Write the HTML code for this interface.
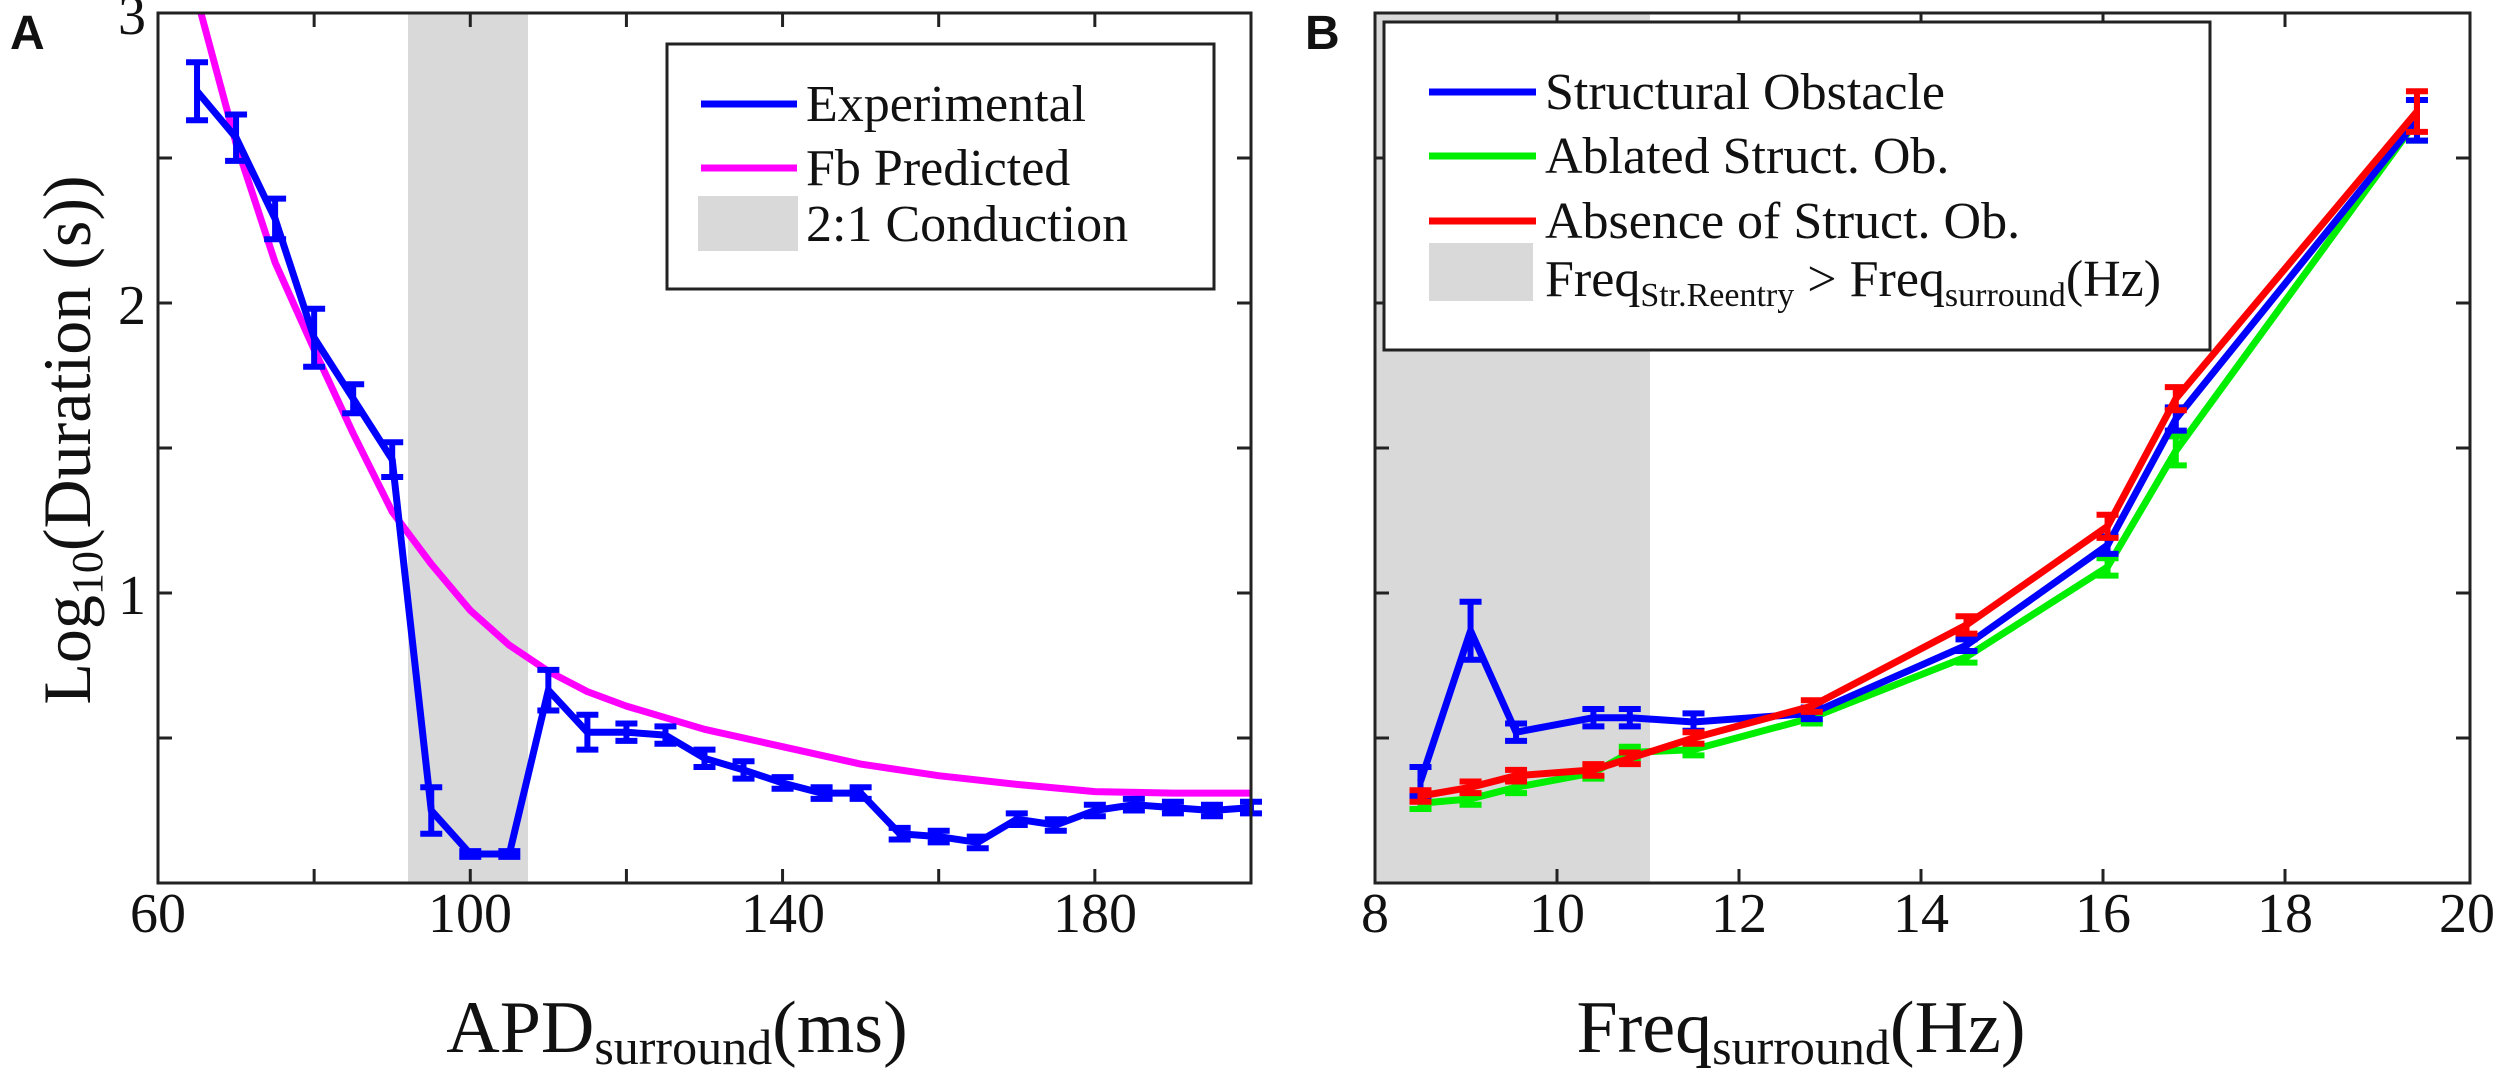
<!DOCTYPE html>
<html><head><meta charset="utf-8"><style>
html,body{margin:0;padding:0;background:#fff;}
svg{display:block;font-family:"Liberation Serif","Times New Roman","DejaVu Serif",serif;}
svg text{font-family:"Liberation Serif","Times New Roman","DejaVu Serif",serif;fill:#111;}
svg text.lab{font-family:"Liberation Sans","DejaVu Sans",sans-serif;font-weight:bold;font-size:48px;}
.tk{font-size:56px;}
.lg{font-size:52px;}
.ax{font-size:74px;}
.ay{font-size:68px;}
</style></head><body>
<svg id="s" width="2500" height="1077" viewBox="0 0 2500 1077" xmlns="http://www.w3.org/2000/svg" font-family="Liberation Serif, serif">
<rect width="2500" height="1077" fill="#fff"/>
<rect x="408" y="13" width="120" height="870" fill="#d9d9d9"/>
<rect x="1375" y="13" width="275" height="870" fill="#d9d9d9"/>
<g id="series"></g>
<g id="axes" stroke="#222" stroke-width="3" fill="none"></g>
<rect x="667" y="44" width="547" height="245" fill="#fff" stroke="#222" stroke-width="3"/>
<line x1="701" y1="104" x2="797" y2="104" stroke="#0000ff" stroke-width="7"/>
<line x1="701" y1="168" x2="797" y2="168" stroke="#ff00ff" stroke-width="7"/>
<rect x="698" y="196" width="100" height="55" fill="#d9d9d9"/>
<text class="lg" x="806" y="121">Experimental</text>
<text class="lg" x="806" y="185">Fb Predicted</text>
<text class="lg" x="806" y="241">2:1 Conduction</text>
<rect x="1384" y="22" width="826" height="328" fill="#fff" stroke="#222" stroke-width="3"/>
<line x1="1429" y1="92" x2="1536" y2="92" stroke="#0000ff" stroke-width="7"/>
<line x1="1429" y1="156" x2="1536" y2="156" stroke="#00ee00" stroke-width="7"/>
<line x1="1429" y1="221" x2="1536" y2="221" stroke="#ff0000" stroke-width="7"/>
<rect x="1429" y="243" width="104" height="58" fill="#d9d9d9"/>
<text class="lg" x="1545" y="109">Structural Obstacle</text>
<text class="lg" x="1545" y="173">Ablated Struct. Ob.</text>
<text class="lg" x="1545" y="238">Absence of Struct. Ob.</text>
<text class="lg" x="1545" y="296">Freq<tspan font-size="34" dy="10">Str.Reentry</tspan><tspan dy="-10"> &gt; Freq</tspan><tspan font-size="34" dy="10">surround</tspan><tspan dy="-10">(Hz)</tspan></text>
<text class="lab" x="10" y="49">A</text>
<text class="lab" x="1305" y="49">B</text>
<text class="tk" x="146" y="34" text-anchor="end">3</text>
<text class="tk" x="146" y="324" text-anchor="end">2</text>
<text class="tk" x="146" y="614" text-anchor="end">1</text>
<text class="tk" x="158" y="932" text-anchor="middle">60</text>
<text class="tk" x="470" y="932" text-anchor="middle">100</text>
<text class="tk" x="783" y="932" text-anchor="middle">140</text>
<text class="tk" x="1095" y="932" text-anchor="middle">180</text>
<text class="tk" x="1375" y="932" text-anchor="middle">8</text>
<text class="tk" x="1557" y="932" text-anchor="middle">10</text>
<text class="tk" x="1739" y="932" text-anchor="middle">12</text>
<text class="tk" x="1921" y="932" text-anchor="middle">14</text>
<text class="tk" x="2103" y="932" text-anchor="middle">16</text>
<text class="tk" x="2285" y="932" text-anchor="middle">18</text>
<text class="tk" x="2467" y="932" text-anchor="middle">20</text>
<text class="ax" x="677" y="1052" text-anchor="middle">APD<tspan font-size="50" dy="12">surround</tspan><tspan dy="-12">(ms)</tspan></text>
<text class="ax" x="1801" y="1052" text-anchor="middle">Freq<tspan font-size="50" dy="12">surround</tspan><tspan dy="-12">(Hz)</tspan></text>
<text class="ay" transform="translate(90,440) rotate(-90)" text-anchor="middle">Log<tspan font-size="44" dy="12">10</tspan><tspan dy="-12">(Duration (s))</tspan></text>
</svg>
<script>
var NS="http://www.w3.org/2000/svg";
function el(p,t,a){var e=document.createElementNS(NS,t);for(var k in a)e.setAttribute(k,a[k]);p.appendChild(e);return e;}
function Y(v){return 883-290*v;}
function XA(x){return 158+(x-60)*7.807;}
function XB(x){return 1375+(x-8)*91;}
var S=document.getElementById("series"),A=document.getElementById("axes");
function box(l,r){el(A,"rect",{x:l,y:13,width:r-l,height:870});}
box(158,1251);box(1375,2470);
var yt=[0.5,1,1.5,2,2.5];
yt.forEach(function(v){[[158,1],[1251,-1],[1375,1],[2470,-1]].forEach(function(p){el(A,"line",{x1:p[0],y1:Y(v),x2:p[0]+14*p[1],y2:Y(v)});});});
for(var x=80;x<200;x+=20){var px=XA(x);el(A,"line",{x1:px,y1:13,x2:px,y2:27});el(A,"line",{x1:px,y1:883,x2:px,y2:869});}
for(var x=10;x<20;x+=2){var px=XB(x);el(A,"line",{x1:px,y1:13,x2:px,y2:27});el(A,"line",{x1:px,y1:883,x2:px,y2:869});}
function line(pts,X,col,w){el(S,"polyline",{points:pts.map(function(p){return X(p[0])+","+Y(p[1]);}).join(" "),fill:"none",stroke:col,"stroke-width":w,"stroke-linejoin":"round"});}
function errs(pts,X,col){pts.forEach(function(p){var x=X(p[0]),e=p[2]||0.03;var y1=Y(p[1]+e),y2=Y(p[1]-e);
el(S,"line",{x1:x,y1:y1,x2:x,y2:y2,stroke:col,"stroke-width":6});
el(S,"line",{x1:x-11,y1:y1,x2:x+11,y2:y1,stroke:col,"stroke-width":6});
el(S,"line",{x1:x-11,y1:y2,x2:x+11,y2:y2,stroke:col,"stroke-width":6});});}
var mag=[[65.5,3.0],[70,2.55],[75,2.14],[80,1.84],[85,1.55],[90,1.28],[95,1.1],[100,0.94],[105,0.82],[110,0.73],[115,0.66],[120,0.61],[130,0.53],[140,0.47],[150,0.41],[160,0.37],[170,0.34],[180,0.315],[190,0.31],[200,0.31]];
line(mag,XA,"#ff00ff",7);
var exp=[[65,2.73,0.1],[70,2.57,0.08],[75,2.29,0.07],[80,1.88,0.1],[85,1.67,0.05],[90,1.46,0.06],[95,0.25,0.08],[100,0.1,0.01],[105,0.1,0.01],[110,0.665,0.07],[115,0.52,0.06],[120,0.52,0.03],[125,0.51,0.03],[130,0.43,0.03],[135,0.39,0.03],[140,0.345,0.02],[145,0.31,0.02],[150,0.31,0.02],[155,0.17,0.02],[160,0.16,0.02],[165,0.14,0.02],[170,0.22,0.02],[175,0.2,0.02],[180,0.25,0.02],[185,0.27,0.02],[190,0.26,0.02],[195,0.25,0.02],[200,0.26,0.02]];
line(exp,XA,"#0000ff",7);errs(exp,XA,"#0000ff");
var gx=[8.5,9.05,9.55,10.4,10.8,11.5,12.8,14.5,16.05,16.8,19.45];
function mk(v,e){return gx.map(function(x,i){return [x,v[i],e[i]];});}
var g=mk([0.275,0.29,0.33,0.38,0.45,0.46,0.57,0.78,1.09,1.49,2.63],[0.02,0.02,0.02,0.02,0.02,0.02,0.02,0.02,0.03,0.05,0.07]);
var b=mk([0.35,0.87,0.52,0.57,0.57,0.555,0.585,0.82,1.165,1.6,2.63],[0.05,0.1,0.03,0.03,0.03,0.03,0.02,0.02,0.03,0.04,0.07]);
var r=mk([0.3,0.33,0.37,0.39,0.43,0.5,0.61,0.89,1.23,1.67,2.66],[0.02,0.02,0.02,0.02,0.02,0.02,0.02,0.03,0.04,0.04,0.07]);
line(g,XB,"#00ee00",7);errs(g,XB,"#00ee00");
line(b,XB,"#0000ff",7);errs(b,XB,"#0000ff");
line(r,XB,"#ff0000",7);errs(r,XB,"#ff0000");
</script>
</body></html>
